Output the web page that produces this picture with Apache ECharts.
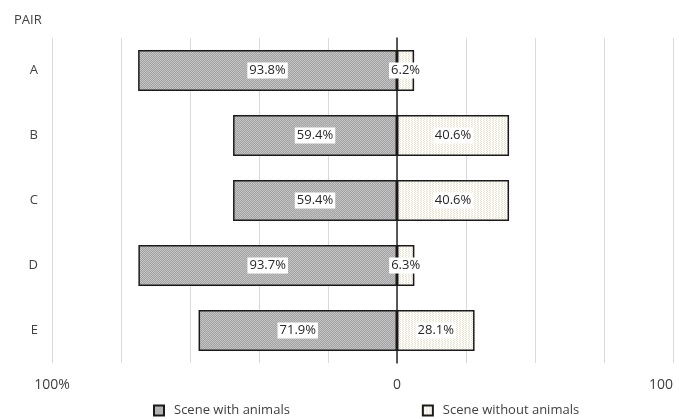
<!DOCTYPE html>
<html>
<head>
<meta charset="utf-8">
<script src="https://cdn.jsdelivr.net/npm/echarts@6/dist/echarts.min.js"></script>
<style>
  html, body { margin: 0; padding: 0; background: #fff; }
  #chart { width: 679px; height: 419px; }
</style>
</head>
<body>
<div id="chart"></div>
<script>
// Pairs and the share of choices for each scene type (percent)
const categories = ['A', 'B', 'C', 'D', 'E'];
const withAnimals = [93.8, 59.4, 59.4, 93.7, 71.9];
const withoutAnimals = [6.2, 40.6, 40.6, 6.3, 28.1];
const seriesNames = ['Scene with animals', 'Scene without animals'];
// x-axis tick labels shown at selected values
const tickLabels = { '-125': '100%', '0': '0', '100': '100' };

// Small tiled fills for the two bar types
function makePattern(w, h, bg, dot, dots) {
  const c = document.createElement('canvas');
  c.width = w; c.height = h;
  const g = c.getContext('2d');
  g.fillStyle = bg; g.fillRect(0, 0, w, h);
  g.fillStyle = dot;
  dots.forEach(([x, y]) => g.fillRect(x, y, 1, 1));
  return c;
}
const grayTile = makePattern(2, 2, '#a2a2a2', '#c4c4c4', [[0, 0], [1, 1]]);
const lightTile = makePattern(3, 2, '#ffffff', '#e4dfc6', [[0, 0], [1, 1]]);
const grayFill = { image: grayTile, repeat: 'repeat' };
const lightFill = { image: lightTile, repeat: 'repeat' };

const font = '"Open Sans", "Liberation Sans", sans-serif';
const labelStyle = {
  show: true,
  position: 'inside',
  color: '#262626',
  fontFamily: font,
  fontSize: 13,
  backgroundColor: '#ffffff',
  padding: [2, 2, 1, 2]
};

const chart = echarts.init(document.getElementById('chart'));
chart.setOption({
  animation: false,
  textStyle: { fontFamily: font },
  title: {
    text: 'PAIR',
    left: 9, top: 9,
    textStyle: { fontSize: 13, fontWeight: 'normal', color: '#404040', fontFamily: font }
  },
  grid: { left: 52, right: 6, top: 38, bottom: 56, containLabel: false },
  legend: {
    bottom: -3,
    left: 148,
    itemGap: 132,
    itemWidth: 10,
    itemHeight: 10,
    icon: 'rect',
    textStyle: { color: '#404040', fontSize: 13, fontFamily: font, padding: [0, 0, 0, 5] },
    data: seriesNames
  },
  xAxis: {
    type: 'value',
    min: -125,
    max: 100,
    interval: 25,
    axisLine: { show: false },
    axisTick: { show: false },
    splitLine: { lineStyle: { color: '#d9d9d9', width: 1 } },
    axisLabel: {
      color: '#404040',
      fontSize: 14,
      margin: 15,
      alignMaxLabel: 'right',
      formatter: v => tickLabels[String(v)] || ''
    }
  },
  yAxis: [
    {
      type: 'category',
      data: categories,
      inverse: true,
      position: 'left',
      axisLine: { show: false, onZero: false },
      axisTick: { show: false },
      axisLabel: { color: '#404040', fontSize: 13, margin: 14 }
    },
    {
      // zero baseline drawn beneath the bars and their labels
      type: 'category',
      data: categories,
      inverse: true,
      axisLine: { show: true, onZero: true, lineStyle: { color: '#262626', width: 1.5 } },
      axisTick: { show: false },
      axisLabel: { show: false }
    }
  ],
  series: [
    {
      name: seriesNames[0],
      type: 'bar',
      stack: 'share',
      barWidth: '63%',
      data: withAnimals.map(v => -v),
      itemStyle: { color: grayFill, borderColor: '#1a1a1a', borderWidth: 1.5 },
      label: Object.assign({}, labelStyle, { formatter: p => (-p.value).toFixed(1) + '%' })
    },
    {
      name: seriesNames[1],
      type: 'bar',
      stack: 'share',
      barWidth: '63%',
      data: withoutAnimals,
      itemStyle: { color: lightFill, borderColor: '#1a1a1a', borderWidth: 1.5 },
      label: Object.assign({}, labelStyle, { formatter: p => p.value.toFixed(1) + '%' })
    }
  ]
});
</script>
</body>
</html>
